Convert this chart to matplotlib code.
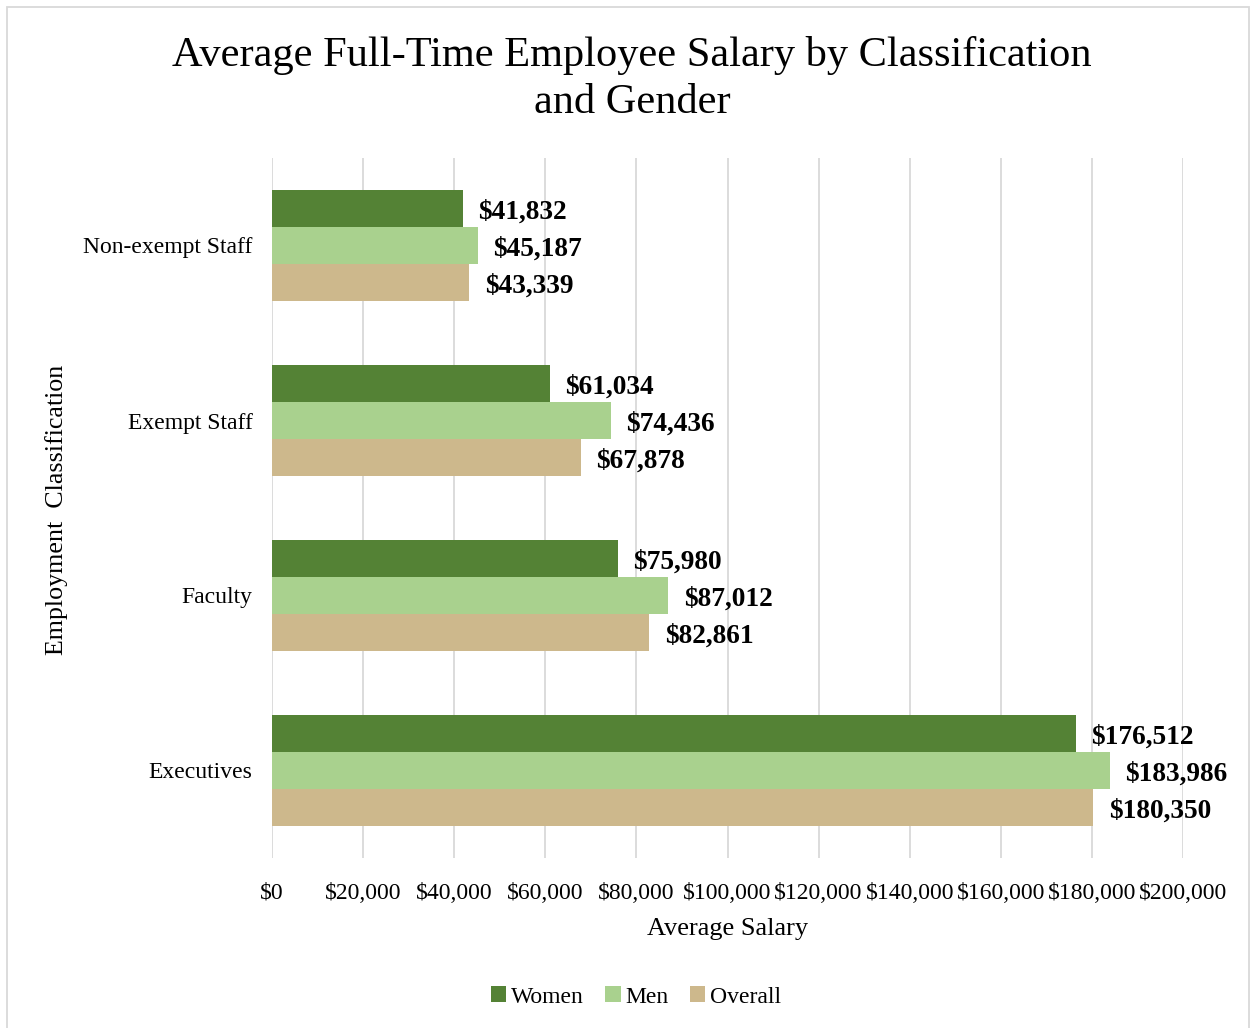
import matplotlib
matplotlib.use("Agg")
import matplotlib.pyplot as plt
import numpy as np
from matplotlib.patches import Rectangle

categories = ["Non-exempt Staff", "Exempt Staff", "Faculty", "Executives"]
women = [41832, 61034, 75980, 176512]
men = [45187, 74436, 87012, 183986]
overall = [43339, 67878, 82861, 180350]
series_names = ["Women", "Men", "Overall"]
x_ticks = [0, 20000, 40000, 60000, 80000, 100000, 120000, 140000, 160000, 180000, 200000]

colors = ["#548235", "#A9D18E", "#CDB88C"]

plt.rcParams['font.family'] = ['Liberation Serif', 'DejaVu Serif']

fig = plt.figure(figsize=(12.55, 10.28), dpi=100)
ax = fig.add_axes([272/1255, 1-858/1028, (1183-272)/1255, 700/1028])

y = np.arange(len(categories))
h = 0.21
for i, (vals, name, c) in enumerate(zip([women, men, overall], series_names, colors)):
    pos = y + (i - 1) * h
    bars = ax.barh(pos, vals, height=h, color=c, label=name, zorder=3)
    for b, v in zip(bars, vals):
        ax.annotate(f"${v:,}", xy=(v, b.get_y() + b.get_height()/2),
                    xytext=(11, -2.5), textcoords="offset points",
                    ha="left", va="center", fontsize=19.7, fontweight="bold", zorder=4)

ax.set_ylim(3.5, -0.5)
ax.set_xlim(0, 200000)
ax.set_yticks(y)
ax.set_yticklabels(categories, fontsize=17)
ax.set_xticks(x_ticks)
ax.set_xticklabels([f"${t:,}" for t in x_ticks], fontsize=17)
ax.tick_params(axis="x", length=0, pad=18)
ax.tick_params(axis="y", length=0, pad=14)
ax.grid(axis="x", color="#d9d9d9", linewidth=1.3, zorder=0)
for s in ax.spines.values():
    s.set_visible(False)

ax.set_xlabel("Average Salary", fontsize=19, labelpad=10)
fig.text(57/1255, 1-510/1028, "Employment  Classification", rotation=90, fontsize=18.7,
         ha="center", va="center")

fig.text(632/1255, 1-79/1028, "Average Full-Time Employee Salary by Classification\nand Gender",
         ha="center", va="center", fontsize=30.5, linespacing=1.3)

leg = fig.legend(loc="center", bbox_to_anchor=(636/1255, 1-997/1028), ncol=3, frameon=False,
                 fontsize=17, handlelength=0.65, handleheight=0.65, handletextpad=0.2,
                 columnspacing=0.9)

fig.patches.append(Rectangle((7/1255, -0.01), (1249-7)/1255, 1.01-7/1028,
                             transform=fig.transFigure, fill=False,
                             edgecolor="#d9d9d9", linewidth=1.3))

fig.savefig("out.png", dpi=100)
